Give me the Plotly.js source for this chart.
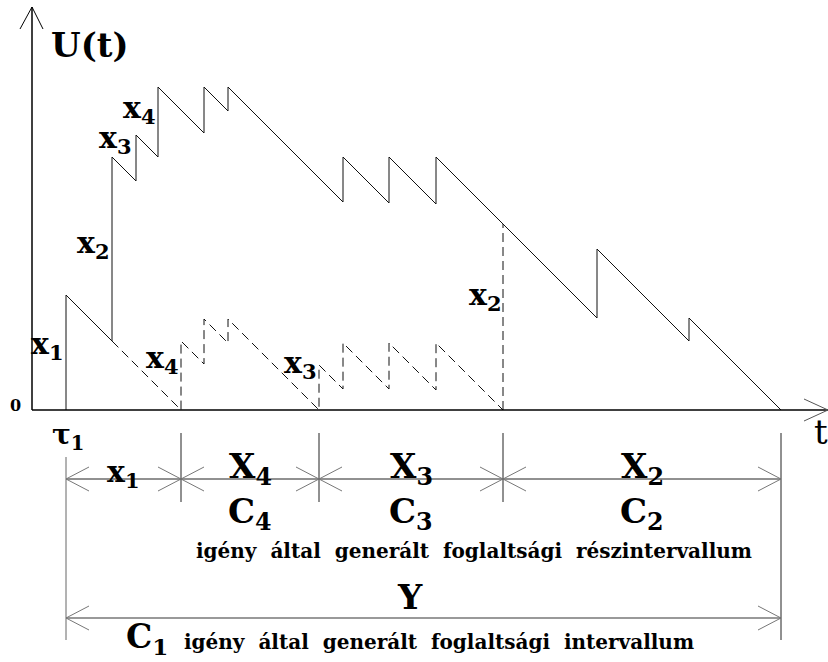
<!DOCTYPE html>
<html>
<head>
<meta charset="utf-8">
<script src="https://cdn.plot.ly/plotly-3.0.1.min.js"></script>
<style>html,body{margin:0;padding:0;background:#fff;}#chart{width:828px;height:662px;}</style>
</head>
<body>
<div id="chart"></div>
<script>
// Virtual waiting time U(t): vertices (time units, work units)
const tMain = [3.4,3.4,8.0,8.0,10.4,10.4,12.6,12.6,17.2,17.2,19.6,19.6,31.1,31.1,35.7,35.7,40.4,40.4,56.5,56.5,65.7,65.7,74.9];
const uMain = [0,11.5,6.9,25.3,22.9,27.5,25.3,32.3,27.7,32.3,29.9,32.3,20.8,25.3,20.7,25.3,20.6,25.3,9.2,16.1,6.9,9.2,0];
// Sub-busy periods generated by the individual demands (dashed)
const tSub = [8.0,14.9,14.9,17.2,17.2,19.6,19.6,28.7,28.7,31.1,31.1,35.7,35.7,40.4,40.4,47.1];
const uSub = [6.9,0,6.9,4.6,9.1,6.7,9.1,0,4.5,2.1,6.7,2.1,6.7,2.0,6.7,0];
const tX2 = [47.1,47.1];
const uX2 = [0,18.6];
// Interval boundaries on the time axis and their labels
const boundaries = [3.4,14.9,28.7,47.1,74.9];
const topLabels = ["x<sub>1</sub>","X<sub>4</sub>","X<sub>3</sub>","X<sub>2</sub>"];
const busyLabels = ["","C<sub>4</sub>","C<sub>3</sub>","C<sub>2</sub>"];
const subText = "igény\u00a0 által\u00a0 generált\u00a0 foglaltsági\u00a0 részintervallum";
const busyText = "igény\u00a0 által\u00a0 generált\u00a0 foglaltsági\u00a0 intervallum";

const FONT = "DejaVu Serif";
const traces = [
  {x:tMain, y:uMain, mode:'lines', line:{color:'#111', width:1}, hoverinfo:'skip'},
  {x:tSub, y:uSub, mode:'lines', line:{color:'#111', width:1, dash:'9px,5px'}, hoverinfo:'skip'},
  {x:tX2, y:uX2, mode:'lines', line:{color:'#111', width:1, dash:'9px,5px'}, hoverinfo:'skip'}
];

const shapes = [];
function ln(x0,y0,x1,y1,w,c){shapes.push({type:'line',xref:'x',yref:'y',x0:x0,y0:y0,x1:x1,y1:y1,line:{color:c||'#000',width:w||1}});}
// axes with arrows
const xEnd = 79.6, yEnd = 40.3;
ln(0,0,0,yEnd,1.5); ln(0,yEnd,-1.2,38.1,1); ln(0,yEnd,1.1,38.1,1);
ln(0,0,xEnd,0,1.5); ln(xEnd,0,77.2,1.1,1,'#555'); ln(xEnd,0,77.2,-1.1,1,'#555');
// dimension lines
const d1 = -6.9, d2 = -20.8, aL = 2.3, aW = 1.2;
const b0 = boundaries[0], bN = boundaries[boundaries.length-1];
ln(b0,d1,bN,d1,1,'#222');
ln(b0,d2,bN,d2,1.4,'#777');
boundaries.forEach((b,i)=>{
  if(i===0||i===boundaries.length-1){ ln(b, i===0?-4.7:-2.3, b, -23.0, 1, i===0?'#666':'#222'); }
  else { ln(b,-2.3,b,-9.2,1,'#222'); }
  if(i<boundaries.length-1){ ln(b,d1,b+aL,d1+aW,1,'#777'); ln(b,d1,b+aL,d1-aW,1,'#777'); }
  if(i>0){ ln(b,d1,b-aL,d1+aW,1,'#777'); ln(b,d1,b-aL,d1-aW,1,'#777'); }
});
ln(b0,d2,b0+aL,d2+aW,1,'#777'); ln(b0,d2,b0+aL,d2-aW,1,'#777');
ln(bN,d2,bN-aL,d2+aW,1,'#777'); ln(bN,d2,bN-aL,d2-aW,1,'#777');

const ann = [];
function tx(x,y,text,size,xa,ya,bold){ann.push({x:x,y:y,xref:'x',yref:'y',text:text,showarrow:false,xanchor:xa||'center',yanchor:ya||'middle',font:{family:FONT,size:size,color:'#000',weight:bold===false?'normal':'bold'}});}
tx(5.8,36.5,"U(t)",34);
tx(-1.7,0.5,"0",16);
tx(3.6,-2.6,"τ<sub>1</sub>",28);
tx(78.9,-2.2,"t",34,'center','middle',false);
// jump labels (right aligned at the jump instants)
tx(tMain[1],6.5,"x<sub>1</sub>",30,'right');
tx(tMain[3],16.6,"x<sub>2</sub>",30,'right');
tx(tMain[5]-0.2,27.1,"x<sub>3</sub>",30,'right');
tx(tMain[7],30.1,"x<sub>4</sub>",30,'right');
tx(tSub[1],5.1,"x<sub>4</sub>",30,'right');
tx(tSub[7],4.6,"x<sub>3</sub>",30,'right');
tx(tX2[0]+0.1,11.4,"x<sub>2</sub>",30,'right');
for(let i=0;i<topLabels.length;i++){
  const mid=(boundaries[i]+boundaries[i+1])/2;
  tx(mid, i===0?-6.3:-5.8, topLabels[i], i===0?30:34);
  if(busyLabels[i]) tx(mid,-10.3,busyLabels[i],34);
}
tx(44.15,-14.1,subText,20);
tx(37.8,-18.7,"Y",34);
tx(11.5,-22.8,"C<sub>1</sub>",33);
tx(40.7,-23.2,busyText,20);

const layout = {
  width:828, height:662, margin:{l:0,r:0,t:0,b:0,pad:0},
  paper_bgcolor:'#fff', plot_bgcolor:'#fff', showlegend:false,
  xaxis:{range:[-3.2,79.6], visible:false, fixedrange:true},
  yaxis:{range:[-25.2,41.0], visible:false, fixedrange:true},
  shapes:shapes, annotations:ann
};
Plotly.newPlot('chart', traces, layout, {staticPlot:true, displayModeBar:false});
</script>
</body>
</html>
